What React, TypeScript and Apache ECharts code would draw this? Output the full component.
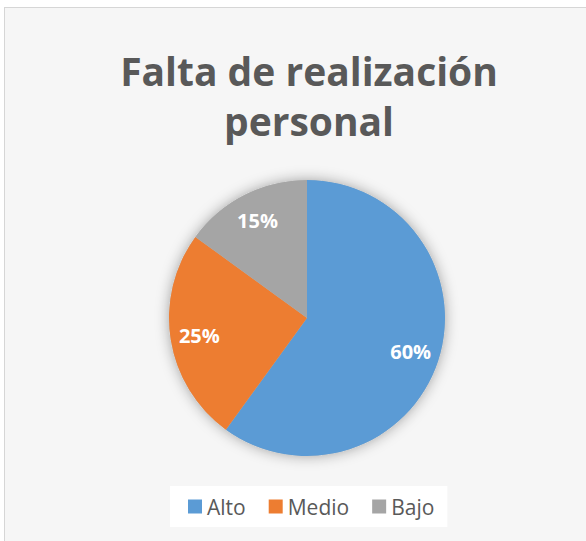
import React, { useEffect, useRef } from "react";
import * as echarts from "echarts";

const titleText = "Falta de realización\npersonal";
const categories = ["Alto", "Medio", "Bajo"];
const values = [60, 25, 15];
const colors = ["#5B9BD5", "#ED7D31", "#A5A5A5"];

export default function App() {
  const ref = useRef<HTMLDivElement>(null);
  useEffect(() => {
    if (!ref.current) return;
    const chart = echarts.init(ref.current, null, { renderer: "svg" });
    const data = categories.map((name, i) => ({
      name,
      value: values[i],
      itemStyle: { color: colors[i] },
    }));
    const center = [307, 318];
    chart.setOption({
      animation: false,
      backgroundColor: "transparent",
      title: {
        text: titleText,
        left: 304,
        top: 40,
        textAlign: "center",
        textStyle: {
          fontFamily: "Open Sans",
          fontWeight: "bold",
          fontSize: 39,
          lineHeight: 50,
          color: "#595959",
        },
      },
      legend: {
        data: categories.map((name, i) => ({ name, itemStyle: { color: colors[i] } })),
        left: 170,
        top: 486,
        orient: "horizontal",
        icon: "rect",
        itemWidth: 14,
        itemHeight: 14,
        itemGap: 23,
        padding: [10, 13, 10, 18],
        backgroundColor: "#ffffff",
        textStyle: {
          fontFamily: "Open Sans",
          fontSize: 21,
          color: "#595959",
          padding: [0, 0, 0, 0],
        },
        selectedMode: false,
      },
      series: [
        {
          type: "pie",
          name: "shadow",
          silent: true,
          center,
          radius: [0, 138],
          z: 1,
          label: { show: false },
          labelLine: { show: false },
          itemStyle: {
            color: "#bbbbbb",
            shadowBlur: 14,
            shadowColor: "rgba(0,0,0,0.35)",
          },
          data: [{ name: "", value: 1 }],
          legendHoverLink: false,
        },
        {
          type: "pie",
          name: "Falta de realización personal",
          center,
          radius: [0, 138],
          startAngle: 90,
          clockwise: true,
          z: 2,
          label: { show: false },
          labelLine: { show: false },
          itemStyle: { borderWidth: 0 },
          data,
        },
        {
          type: "pie",
          name: "labels",
          silent: true,
          center,
          radius: [74, 138],
          startAngle: 90,
          clockwise: true,
          z: 3,
          itemStyle: { color: "rgba(0,0,0,0)", borderWidth: 0 },
          label: {
            show: true,
            position: "inside",
            formatter: "{d}%",
            color: "#ffffff",
            fontFamily: "Open Sans",
            fontWeight: "bold",
            fontSize: 20,
          },
          labelLine: { show: false },
          data: categories.map((name, i) => ({ name, value: values[i] })),
        },
      ],
    });
    return () => chart.dispose();
  }, []);
  return (
    <div
      style={{
        position: "fixed",
        left: 0,
        top: 0,
        width: 586,
        height: 541,
        overflow: "hidden",
        background: "#ffffff",
      }}
    >
      <div
        style={{
          position: "absolute",
          left: 4,
          top: 7,
          width: 600,
          height: 560,
          border: "1.5px solid #d6d6d6",
          background: "#f6f6f6",
        }}
      />
      <div ref={ref} style={{ position: "absolute", left: 0, top: 0, width: 586, height: 541 }} />
    </div>
  );
}
